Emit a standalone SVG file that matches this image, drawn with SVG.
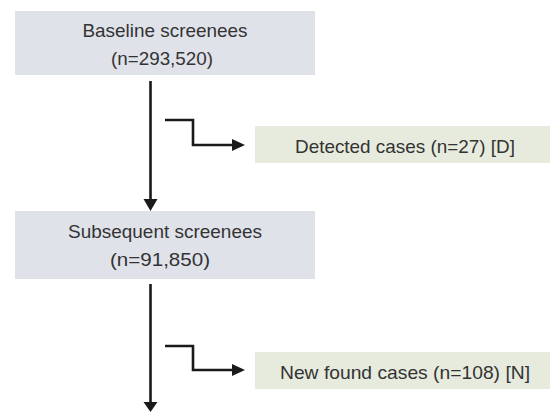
<svg xmlns="http://www.w3.org/2000/svg" width="550" height="412" viewBox="0 0 550 412">
  <style>
    .main { fill: #e0e2ea; }
    .side { fill: #e7ebde; }
    .lbl { font-family: "Liberation Sans", Arial, sans-serif; font-size: 19px; fill: #333333; text-anchor: middle; }
    .wire { fill: none; stroke: #1a1a1a; stroke-width: 2.6; }
    .head { fill: #1a1a1a; }
  </style>
  <rect width="550" height="412" fill="#ffffff"/>

  <g id="connectors">
    <!-- main flow -->
    <line class="wire" x1="150.5" y1="81" x2="150.5" y2="201"/>
    <polygon class="head" points="143.5,199 157.5,199 150.5,211"/>
    <line class="wire" x1="150.5" y1="284" x2="150.5" y2="404"/>
    <polygon class="head" points="143.5,402 157.5,402 150.5,412"/>
    <!-- branch to detected cases -->
    <polyline class="wire" points="165,120 193,120 193,145 234,145"/>
    <polygon class="head" points="232,139 245,145 232,151"/>
    <!-- branch to new found cases -->
    <polyline class="wire" points="165,346 193,346 193,370 234,370"/>
    <polygon class="head" points="232,364 245,370 232,376"/>
  </g>

  <g id="baseline">
    <rect class="main" x="15" y="11" width="300" height="64"/>
    <text class="lbl" x="165" y="37" textLength="165" lengthAdjust="spacingAndGlyphs">Baseline screenees</text>
    <text class="lbl" x="162" y="65" textLength="102" lengthAdjust="spacingAndGlyphs">(n=293,520)</text>
  </g>

  <g id="detected">
    <rect class="side" x="255" y="126" width="295" height="37"/>
    <text class="lbl" x="405" y="153" textLength="220" lengthAdjust="spacingAndGlyphs">Detected cases (n=27) [D]</text>
  </g>

  <g id="subsequent">
    <rect class="main" x="15" y="211" width="300" height="68"/>
    <text class="lbl" x="165" y="238" textLength="194" lengthAdjust="spacingAndGlyphs">Subsequent screenees</text>
    <text class="lbl" x="160" y="266" textLength="100" lengthAdjust="spacingAndGlyphs">(n=91,850)</text>
  </g>

  <g id="newfound">
    <rect class="side" x="255" y="352" width="295" height="37"/>
    <text class="lbl" x="405" y="379" textLength="250" lengthAdjust="spacingAndGlyphs">New found cases (n=108) [N]</text>
  </g>
</svg>
